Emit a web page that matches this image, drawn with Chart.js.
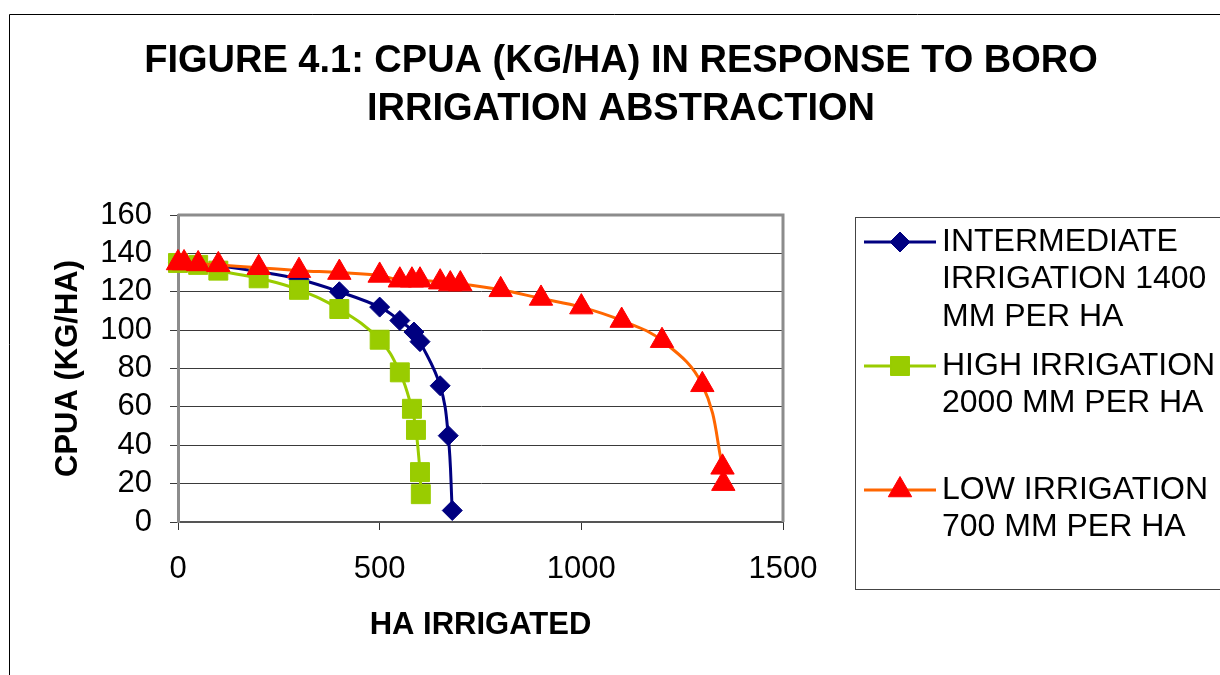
<!DOCTYPE html>
<html>
<head>
<meta charset="utf-8">
<title>Figure 4.1 CPUA</title>
<script src="https://cdn.jsdelivr.net/npm/chart.js@4.4.1/dist/chart.umd.min.js"></script>
<style>
    html, body { margin: 0; padding: 0; background: #fff; }
    #wrap { width: 1220px; height: 675px; }
</style>
</head>
<body>
<div id="wrap"><canvas id="cpua-chart" width="1220" height="675"></canvas></div>
<script>
// Chart values
const titleLines = ['FIGURE 4.1: CPUA (KG/HA) IN RESPONSE TO BORO', 'IRRIGATION ABSTRACTION'];
const xTitle = 'HA IRRIGATED';
const yTitle = 'CPUA (KG/HA)';

const seriesNames = [
    ['INTERMEDIATE', 'IRRIGATION 1400', 'MM PER HA'],
    ['HIGH IRRIGATION', '2000 MM PER HA'],
    ['LOW IRRIGATION', '700 MM PER HA']
];

// intermediate irrigation 1400 mm per ha
const interX = [0, 50, 100, 200, 300, 400, 500, 550, 585, 600, 650, 670, 680];
const interY = [135, 134.5, 133.5, 130.5, 126.5, 120, 112, 105, 99, 94, 71, 45, 6];

// high irrigation 2000 mm per ha
const highX = [0, 50, 100, 200, 300, 400, 500, 550, 580, 590, 600, 602];
const highY = [135, 134, 131, 127, 121, 111, 95, 78, 59, 48, 26, 14.5];

// low irrigation 700 mm per ha
const lowX = [0, 15, 50, 100, 200, 300, 400, 500, 550, 580, 600, 650, 675, 700, 800, 900, 1000, 1100, 1200, 1300, 1350, 1352];
const lowY = [135, 135, 134.5, 134, 132.5, 131, 130, 128.5, 126, 126, 126, 125, 124, 124, 121, 116.5, 112, 105, 94.5, 71.5, 28.5, 20];

const xTicks = [0, 500, 1000, 1500];
const yTicks = [0, 20, 40, 60, 80, 100, 120, 140, 160];

/**
 * Zip x and y arrays into scatter points
 */
function toPoints(xs, ys) {
    return xs.map((x, i) => ({ x: x, y: ys[i] }));
}

/**
 * Outer frame, plot border, title and legend
 */
const figureLayer = {
    id: 'figureLayer',
    beforeDraw(chart) {
        const ctx = chart.ctx;
        ctx.save();
        ctx.fillStyle = '#fff';
        ctx.fillRect(0, 0, chart.width, chart.height);
        ctx.strokeStyle = '#000';
        ctx.lineWidth = 1;
        ctx.beginPath();
        ctx.moveTo(9.5, chart.height);
        ctx.lineTo(9.5, 14.5);
        ctx.lineTo(chart.width, 14.5);
        ctx.stroke();
        ctx.restore();
    },
    beforeDatasetsDraw(chart) {
        const { ctx, chartArea } = chart;
        ctx.save();
        ctx.strokeStyle = '#8c8c8c';
        ctx.lineWidth = 3;
        ctx.beginPath();
        ctx.moveTo(chartArea.left, chartArea.top);
        ctx.lineTo(chartArea.right, chartArea.top);
        ctx.lineTo(chartArea.right, chartArea.bottom);
        ctx.stroke();
        ctx.restore();
    },
    afterDraw(chart) {
        const ctx = chart.ctx;
        ctx.save();

        // Title
        ctx.fillStyle = '#000';
        ctx.font = 'bold 38px "Liberation Sans", Arial, sans-serif';
        ctx.textAlign = 'center';
        ctx.textBaseline = 'middle';
        titleLines.forEach((line, i) => ctx.fillText(line, 621, 62 + i * 48));

        // Legend box (runs off the right edge like the original)
        ctx.strokeStyle = '#444';
        ctx.lineWidth = 1;
        ctx.strokeRect(855.5, 217.5, 400, 372);

        const rowY = [242, 366, 490];
        ctx.font = '32px "Liberation Sans", Arial, sans-serif';
        ctx.textAlign = 'left';
        chart.data.datasets.forEach((ds, i) => {
            const y = rowY[i];
            ctx.strokeStyle = ds.borderColor;
            ctx.lineWidth = 3;
            ctx.beginPath();
            ctx.moveTo(864, y);
            ctx.lineTo(936, y);
            ctx.stroke();

            ctx.fillStyle = ds.pointBackgroundColor;
            ctx.strokeStyle = ds.pointBorderColor;
            ctx.lineWidth = 1;
            if (Chart.helpers && Chart.helpers.drawPoint) {
                Chart.helpers.drawPoint(ctx, {
                    pointStyle: ds.pointStyle,
                    radius: ds.pointRadius,
                    rotation: 0,
                    borderWidth: 1
                }, 900, y);
            }

            ctx.fillStyle = '#000';
            seriesNames[i].forEach((line, j) => ctx.fillText(line, 942, y + j * 37.5));
        });

        ctx.restore();
    }
};

const ctx = document.getElementById('cpua-chart').getContext('2d');

const cpuaChart = new Chart(ctx, {
    type: 'scatter',
    data: {
        datasets: [{
            label: seriesNames[0].join(' '),
            data: toPoints(interX, interY),
            showLine: true,
            borderColor: '#000080',
            borderWidth: 3,
            pointStyle: 'rectRot',
            pointRadius: 10,
            pointBackgroundColor: '#000080',
            pointBorderColor: '#000080',
            pointBorderWidth: 1,
            tension: 0.4,
            clip: false,
            order: 2
        }, {
            label: seriesNames[1].join(' '),
            data: toPoints(highX, highY),
            showLine: true,
            borderColor: '#99CC00',
            borderWidth: 3,
            pointStyle: 'rect',
            pointRadius: 13.4,
            pointBackgroundColor: '#99CC00',
            pointBorderColor: '#99CC00',
            pointBorderWidth: 1,
            tension: 0.4,
            clip: false,
            order: 1
        }, {
            label: seriesNames[2].join(' '),
            data: toPoints(lowX, lowY),
            showLine: true,
            borderColor: '#FF6600',
            borderWidth: 3,
            pointStyle: 'triangle',
            pointRadius: 13.5,
            pointBackgroundColor: '#FF0000',
            pointBorderColor: '#FF0000',
            pointBorderWidth: 1,
            tension: 0.4,
            clip: false,
            order: 0
        }]
    },
    options: {
        responsive: false,
        animation: false,
        events: [],
        layout: {
            padding: { top: 215, right: 437, bottom: 0, left: 0 }
        },
        scales: {
            x: {
                type: 'linear',
                min: 0,
                max: 1500,
                afterBuildTicks: (scale) => { scale.ticks = xTicks.map(v => ({ value: v })); },
                afterFit: (scale) => { scale.height = 153; },
                ticks: {
                    color: '#000',
                    padding: 21,
                    maxRotation: 0,
                    autoSkip: false,
                    callback: (value) => String(value),
                    font: { family: '"Liberation Sans", Arial, sans-serif', size: 31 }
                },
                grid: {
                    drawOnChartArea: false,
                    drawTicks: true,
                    tickLength: 8,
                    color: '#333'
                },
                border: { display: true, color: '#555', width: 2 },
                title: {
                    display: true,
                    text: xTitle,
                    color: '#000',
                    padding: { top: 0, bottom: 31 },
                    font: { family: '"Liberation Sans", Arial, sans-serif', size: 31, weight: 'bold' }
                }
            },
            y: {
                type: 'linear',
                min: 0,
                max: 160,
                afterBuildTicks: (scale) => { scale.ticks = yTicks.map(v => ({ value: v })); },
                afterFit: (scale) => { scale.width = 178; },
                ticks: {
                    color: '#000',
                    padding: 18,
                    autoSkip: false,
                    callback: (value) => String(value),
                    font: { family: '"Liberation Sans", Arial, sans-serif', size: 31 }
                },
                grid: {
                    color: '#3a3a3a',
                    lineWidth: 1,
                    drawTicks: true,
                    tickLength: 8
                },
                border: { display: true, color: '#8c8c8c', width: 3 },
                title: {
                    display: true,
                    text: yTitle,
                    color: '#000',
                    padding: { top: 50, bottom: 0 },
                    font: { family: '"Liberation Sans", Arial, sans-serif', size: 31, weight: 'bold' }
                }
            }
        },
        plugins: {
            legend: { display: false },
            title: { display: false },
            tooltip: { enabled: false }
        }
    },
    plugins: [figureLayer]
});
</script>
</body>
</html>
